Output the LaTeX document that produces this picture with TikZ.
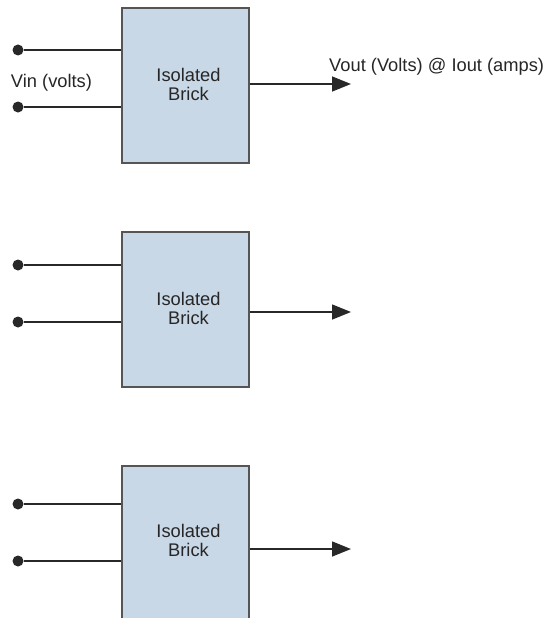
\documentclass[tikz,border=0pt]{standalone}
\usepackage{fontspec}
\setmainfont{Liberation Sans}
\usetikzlibrary{arrows.meta}
\definecolor{brickfill}{RGB}{201,216,230}
\definecolor{brickedge}{RGB}{85,85,85}
\definecolor{wire}{RGB}{40,40,40}
\tikzset{
  brick/.style={draw=brickedge, line width=2pt, fill=brickfill,
    minimum width=127pt, minimum height=155pt, inner sep=0pt},
  bricklabel/.style={align=center, inner sep=0pt,
    font=\fontsize{18.3}{19}\selectfont, text=black!85},
  lbl/.style={inner sep=0pt, font=\fontsize{18.3}{19}\selectfont, text=black!85},
  terminal/.style={circle, fill=wire, inner sep=0pt, minimum size=11pt},
  wireline/.style={draw=wire, line width=1.5pt},
  outarrow/.style={wireline, -{Triangle[length=19pt,width=15pt]}}
}
\begin{document}
\begin{tikzpicture}[x=1pt,y=-1pt]
\useasboundingbox (0,0) rectangle (551,618);
\clip (0,0) rectangle (551,618);

% first converter
\node[brick] (b1) at (185.5,85.5) {};
\node[bricklabel] (t1) at (188.5,84) {Isolated\\Brick};
\node[terminal] (p1) at (18,50) {};
\node[terminal] (n1) at (18,107) {};
\draw[wireline] (p1) -- (p1 -| b1.west);
\draw[wireline] (n1) -- (n1 -| b1.west);
\node[lbl, anchor=base] (vin) at (51.5,88) {Vin (volts)};
\coordinate (o1) at (351,84);
\draw[outarrow] (o1 -| b1.east) -- (o1);
\node[lbl, anchor=base west] (vout) at (329,71.5) {Vout (Volts) @ Iout (amps)};

% second converter
\node[brick] (b2) at (185.5,309.5) {};
\node[bricklabel] (t2) at (188.5,308) {Isolated\\Brick};
\node[terminal] (p2) at (18,265) {};
\node[terminal] (n2) at (18,322) {};
\draw[wireline] (p2) -- (p2 -| b2.west);
\draw[wireline] (n2) -- (n2 -| b2.west);
\coordinate (o2) at (351,312);
\draw[outarrow] (o2 -| b2.east) -- (o2);

% third converter
\node[brick] (b3) at (185.5,543) {};
\node[bricklabel] (t3) at (188.5,540) {Isolated\\Brick};
\node[terminal] (p3) at (18,504) {};
\node[terminal] (n3) at (18,561) {};
\draw[wireline] (p3) -- (p3 -| b3.west);
\draw[wireline] (n3) -- (n3 -| b3.west);
\coordinate (o3) at (351,549);
\draw[outarrow] (o3 -| b3.east) -- (o3);
\end{tikzpicture}
\end{document}
